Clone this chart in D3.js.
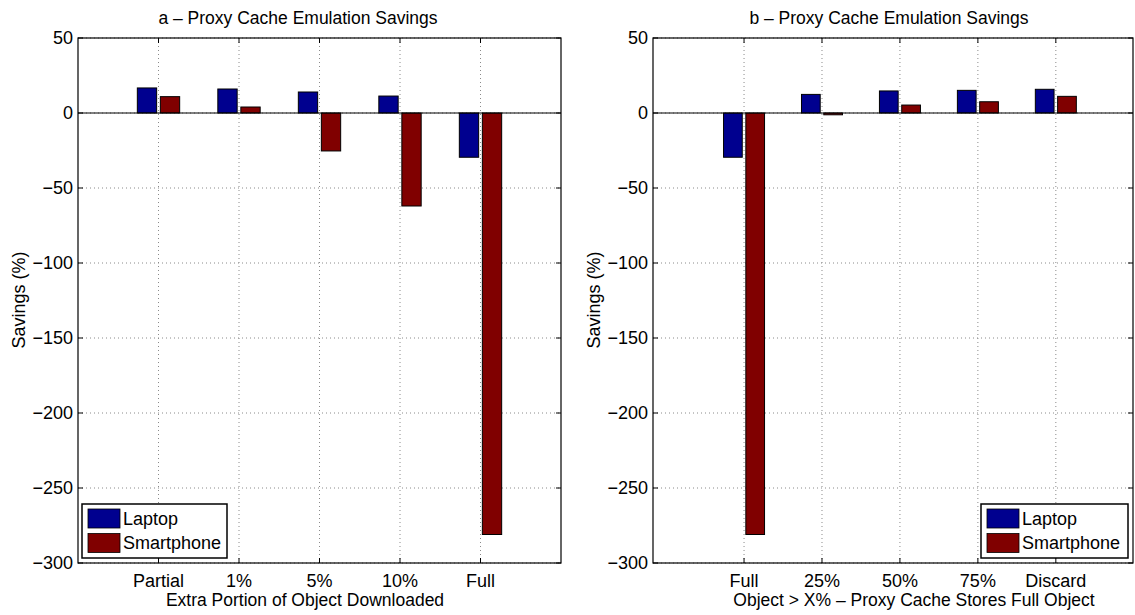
<!DOCTYPE html>
<html>
<head>
<meta charset="utf-8">
<script src="https://cdn.jsdelivr.net/npm/d3@7"></script>
<style>
  body { margin: 0; background: #fff; }
  text { font-family: "Liberation Sans", Arial, Helvetica, sans-serif; fill: #000; }
</style>
</head>
<body>
<svg id="chart" width="1135" height="615"></svg>
<script>
// chart data
const seriesNames = ["Laptop", "Smartphone"];
const seriesColors = ["#00008f", "#800000"];
const catsA = ["Partial", "1%", "5%", "10%", "Full"];
const laptopA = [16.7, 16.0, 14.0, 11.3, -29.5];
const phoneA = [10.9, 4.0, -25.3, -62, -281];
const catsB = ["Full", "25%", "50%", "75%", "Discard"];
const laptopB = [-29.5, 12.4, 14.7, 15.1, 15.8];
const phoneB = [-281, -1.2, 5.3, 7.5, 11.1];
const yTicks = [50, 0, -50, -100, -150, -200, -250, -300];

const svg = d3.select("#chart");
svg.append("rect").attr("width", 1135).attr("height", 615).attr("fill", "#fff");

// one panel
function drawPanel(opt) {
  let x = d3.scaleLinear().domain(opt.xDomain).range([opt.left, opt.right]);
  let y = d3.scaleLinear().domain([-300, 50]).range([563, 38]);
  let g = svg.append("g");
  let top = y(50), bottom = y(-300);
  let cx = d => x(opt.cats.indexOf(d) + 1);

  // grid
  opt.cats.forEach(c => {
    g.append("line")
      .attr("x1", cx(c)).attr("x2", cx(c))
      .attr("y1", top).attr("y2", bottom)
      .attr("stroke", "#8a8a8a").attr("stroke-dasharray", "1,3");
  });
  yTicks.forEach(t => {
    g.append("line")
      .attr("x1", opt.left).attr("x2", opt.right)
      .attr("y1", y(t)).attr("y2", y(t))
      .attr("stroke", "#8a8a8a").attr("stroke-dasharray", "1,3");
  });

  // bars
  let offs = [-0.143, 0.143];
  let bw = x(0.24) - x(0);
  [opt.laptop, opt.phone].forEach((vals, s) => {
    g.selectAll(null).data(vals).enter().append("rect")
      .attr("x", (d, i) => x(i + 1 + offs[s]) - bw / 2)
      .attr("y", d => y(Math.max(0, d)))
      .attr("width", bw)
      .attr("height", d => Math.abs(y(d) - y(0)))
      .attr("fill", seriesColors[s])
      .attr("stroke", "#000").attr("stroke-width", 1);
  });

  // zero baseline
  g.append("line")
    .attr("x1", opt.left).attr("x2", opt.right)
    .attr("y1", y(0)).attr("y2", y(0))
    .attr("stroke", "#000");

  // box
  g.append("rect")
    .attr("x", opt.left).attr("y", top)
    .attr("width", opt.right - opt.left).attr("height", bottom - top)
    .attr("fill", "none").attr("stroke", "#000").attr("stroke-width", 1.2);

  // ticks inward
  opt.cats.forEach(c => {
    g.append("line").attr("x1", cx(c)).attr("x2", cx(c))
      .attr("y1", bottom).attr("y2", bottom - 5).attr("stroke", "#000");
    g.append("line").attr("x1", cx(c)).attr("x2", cx(c))
      .attr("y1", top).attr("y2", top + 5).attr("stroke", "#000");
    g.append("text")
      .attr("x", cx(c)).attr("y", 587)
      .attr("text-anchor", "middle")
      .style("font-size", "18px")
      .text(c);
  });
  yTicks.forEach(t => {
    g.append("line").attr("x1", opt.left).attr("x2", opt.left + 5)
      .attr("y1", y(t)).attr("y2", y(t)).attr("stroke", "#000");
    g.append("line").attr("x1", opt.right).attr("x2", opt.right - 5)
      .attr("y1", y(t)).attr("y2", y(t)).attr("stroke", "#000");
    g.append("text")
      .attr("x", opt.left - 5).attr("y", y(t)).attr("dy", "0.36em")
      .attr("text-anchor", "end")
      .style("font-size", "18px")
      .text(t < 0 ? "\u2212" + Math.abs(t) : t);
  });

  // titles
  g.append("text")
    .attr("x", opt.titleX).attr("y", 24)
    .attr("text-anchor", "middle")
    .style("font-size", "17.5px")
    .text(opt.title);
  g.append("text")
    .attr("x", opt.xLabelX).attr("y", 606)
    .attr("text-anchor", "middle")
    .style("font-size", "17.5px")
    .text(opt.xLabel);
  g.append("text")
    .attr("transform", `translate(${opt.left - 53},300) rotate(-90)`)
    .attr("text-anchor", "middle")
    .style("font-size", "18px")
    .text("Savings (%)");

  // legend
  let lg = g.append("g").attr("transform", `translate(${opt.legendX},504)`);
  lg.append("rect")
    .attr("width", opt.legendW).attr("height", 54)
    .attr("fill", "#fff").attr("stroke", "#000").attr("stroke-width", 1.5);
  seriesNames.forEach((n, i) => {
    lg.append("rect")
      .attr("x", 6).attr("y", 5 + i * 24.5)
      .attr("width", 32).attr("height", 19)
      .attr("fill", seriesColors[i]).attr("stroke", "#000").attr("stroke-width", 0.8);
    lg.append("text")
      .attr("x", 41).attr("y", 14.5 + i * 24.5).attr("dy", "0.36em")
      .style("font-size", "18px")
      .text(n);
  });
}

drawPanel({
  left: 78, right: 561, xDomain: [0, 6],
  cats: catsA, laptop: laptopA, phone: phoneA,
  title: "a \u2013 Proxy Cache Emulation Savings",
  xLabel: "Extra Portion of Object Downloaded",
  titleX: 298, xLabelX: 305,
  legendX: 82, legendW: 145
});
drawPanel({
  left: 653, right: 1133, xDomain: [-0.168, 5.99],
  cats: catsB, laptop: laptopB, phone: phoneB,
  title: "b \u2013 Proxy Cache Emulation Savings",
  xLabel: "Object > X% \u2013 Proxy Cache Stores Full Object",
  titleX: 889, xLabelX: 914,
  legendX: 981, legendW: 147
});
</script>
</body>
</html>
